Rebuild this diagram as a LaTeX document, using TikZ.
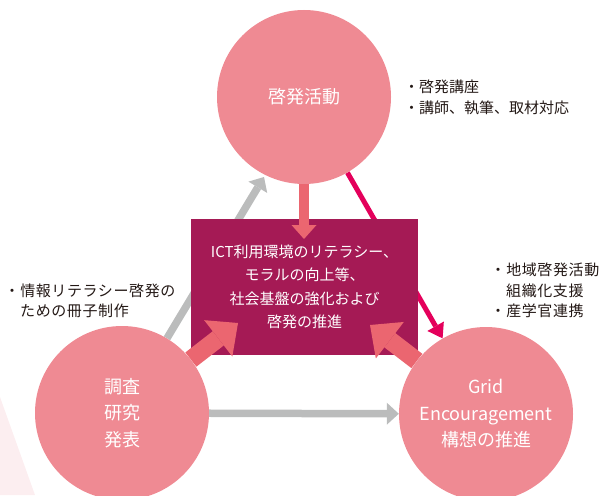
\documentclass[tikz,border=0pt]{standalone}
\usepackage{fontspec}
\setmainfont{Noto Sans CJK JP}
\newfontfamily\spacedcjk[LetterSpace=4]{Noto Sans CJK JP}
\usetikzlibrary{arrows.meta}
\pgfdeclarelayer{l0}
\pgfdeclarelayer{l1}
\pgfdeclarelayer{l2}
\pgfsetlayers{l0,l1,l2,main}
\definecolor{circfill}{HTML}{EF8A93}
\definecolor{salm}{HTML}{EB6670}
\definecolor{boxfill}{HTML}{A51A55}
\definecolor{hotpink}{HTML}{E4005B}
\definecolor{grayarr}{HTML}{BBBCBC}
\definecolor{pale}{HTML}{FCEEF0}
\definecolor{txt}{HTML}{231815}
\begin{document}
\begin{tikzpicture}[x=1pt,y=-1pt,
  circnode/.style={circle, fill=circfill, minimum size=174pt, inner sep=0pt,
    text=white, align=center, font=\fontsize{18}{26.5}\selectfont},
  boxnode/.style={fill=boxfill, minimum width=227pt, minimum height=136pt,
    inner sep=0pt, text=white, align=center, font=\fontsize{15}{23.5}\selectfont},
  note/.style={anchor=base west, inner sep=0pt, text=txt, font=\fontsize{15}{21}\selectfont},
  widenote/.style={note, font=\spacedcjk\fontsize{15}{21}\selectfont},
  fatarrow/.style={draw=salm, line width=18pt,
    -{Triangle[width=46pt,length=25pt,line width=0pt]}},
  toparrow/.style={draw=salm, line width=10pt,
    -{Triangle[width=25pt,length=14pt,line width=0pt]}},
  grayarrow/.style={draw=grayarr, line width=7.5pt,
    -{Triangle[width=22pt,length=12pt,line width=0pt]}},
  pinkarrow/.style={draw=hotpink, line width=5pt,
    -{Triangle[width=19pt,length=14pt,line width=0pt]}}
]
\useasboundingbox (0,0) rectangle (604,495);

% circles
\node[circnode] (top) at (304,97) {啓発活動};
\node[circnode] (bl) at (122,413) {調査\\研究\\発表};
\node[circnode] (br) at (486,414) {Grid\\Encouragement\\構想の推進};

% named tip coordinates
\coordinate (tipT) at (304,239);
\coordinate (tipL) at (238,323);
\coordinate (tipR) at (370,325);
\coordinate (gT) at (264,177);

\begin{pgfonlayer}{l0}
  \fill[pale] (0,397) -- (35,495) -- (0,495) -- cycle;
  \draw[grayarrow] (bl) -- (gT);
  \draw[grayarrow] (bl) -- (br);
  \draw[pinkarrow] (top) -- (br);
\end{pgfonlayer}

\begin{pgfonlayer}{l1}
  \node[boxnode] (box) at (304.5,287) {ICT利用環境のリテラシー、\\モラルの向上等、\\社会基盤の強化および\\啓発の推進};
\end{pgfonlayer}

\begin{pgfonlayer}{l2}
  \draw[toparrow] (top) -- (tipT);
  \draw[fatarrow] (bl) -- (tipL);
  \draw[fatarrow] (br) -- (tipR);
\end{pgfonlayer}

% notes
\node[note] (n1) at (404,92) {・啓発講座};
\node[note] (n2) at (404,113) {・講師、執筆、取材対応};
\node[widenote] (n3) at (4.5,296.5) {・情報リテラシー啓発の};
\node[widenote] (n4) at (20,316.5) {ための冊子制作};
\node[widenote] (n5) at (490.5,275.5) {・地域啓発活動};
\node[widenote] (n6) at (506,296.5) {組織化支援};
\node[widenote] (n7) at (490.5,316.5) {・産学官連携};
\end{tikzpicture}
\end{document}
